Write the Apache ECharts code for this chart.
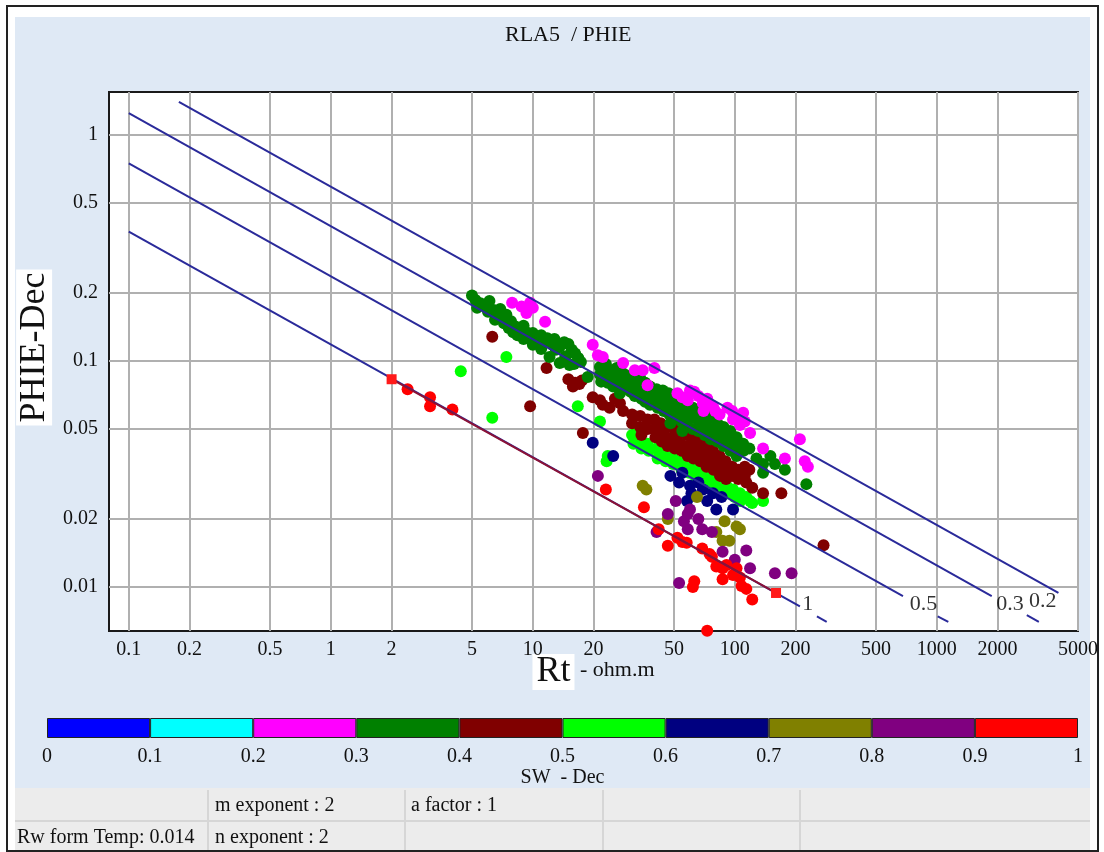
<!DOCTYPE html>
<html>
<head>
<meta charset="utf-8">
<title>RLA5 / PHIE</title>
<script src="https://cdn.jsdelivr.net/npm/echarts@6.0.0/dist/echarts.min.js"></script>
<style>
  html, body { margin: 0; padding: 0; background: #fff; }
  #chart { width: 1104px; height: 852px; }
</style>
</head>
<body>
<div id="chart"></div>
<script>
// axis ticks (real units, log scales)
const xTicks = [0.1, 0.2, 0.5, 1, 2, 5, 10, 20, 50, 100, 200, 500, 1000, 2000, 5000]
const yTicks = [0.01, 0.02, 0.05, 0.1, 0.2, 0.5, 1]
const xRange = [0.0798, 5000]
const yRange = [0.00638, 1.55]

// SW colour bins
const swEdges = [0, 0.1, 0.2, 0.3, 0.4, 0.5, 0.6, 0.7, 0.8, 0.9, 1]
const swColors = ['#0000ff', '#00ffff', '#ff00ff', '#008000', '#800000',
  '#00ff00', '#000080', '#808000', '#800080', '#ff0000']

// points [Rt, PHIE] by SW bin
const pts05_06 = [
  [4.4, 0.090], [7.4, 0.104], [6.3, 0.056], [16.7, 0.063], [21.5, 0.054], [23.2, 0.036], [23.5, 0.038],
  [31, 0.047], [31.5, 0.043], [33, 0.049], [34, 0.045], [34.5, 0.041], [37, 0.043], [37.5, 0.040], [41, 0.041],
  [41.5, 0.037], [45, 0.039], [45.5, 0.036], [49, 0.038], [49.5, 0.035], [54, 0.036], [54.5, 0.033],
  [59, 0.035], [59.5, 0.032], [64, 0.033], [64.5, 0.030], [70, 0.032], [70.5, 0.029], [76, 0.030],
  [76.5, 0.028], [83, 0.029], [83.5, 0.027], [91, 0.028], [91.5, 0.026], [98, 0.027], [100, 0.025],
  [106, 0.026], [106.5, 0.024], [114, 0.025], [119, 0.024], [122, 0.0235], [138, 0.024]
]
const pts04_05 = [
  [6.3, 0.128], [11.7, 0.093], [9.7, 0.063], [15, 0.083], [15.8, 0.080], [16.2, 0.080], [17.5, 0.082],
  [15.8, 0.077], [17, 0.079], [19.8, 0.069], [22.2, 0.064], [21.5, 0.067], [24, 0.062], [27, 0.065],
  [25.5, 0.068], [17.7, 0.048],
  [28, 0.060], [31, 0.058], [31, 0.053], [34, 0.057], [34, 0.051], [34.5, 0.047], [37, 0.055], [37, 0.050],
  [40, 0.055], [40, 0.050], [40.5, 0.046], [43, 0.053], [43, 0.048], [43.5, 0.044], [46, 0.051],
  [46, 0.046], [46.5, 0.042], [50, 0.050], [50, 0.045], [50.5, 0.041], [54, 0.048], [54, 0.043],
  [54.5, 0.040], [58, 0.047], [58, 0.042], [58.5, 0.038], [62, 0.045], [62, 0.041], [62.5, 0.037],
  [67, 0.044], [67, 0.040], [67.5, 0.036], [72, 0.042], [72, 0.038], [72.5, 0.034], [78, 0.040],
  [78, 0.036], [78.5, 0.033], [84, 0.038], [84, 0.034], [84.5, 0.031], [90, 0.036], [90, 0.033],
  [90.5, 0.030], [97, 0.034], [97, 0.031], [104, 0.033], [104, 0.030], [112, 0.034], [112, 0.031],
  [114, 0.029], [118, 0.033], [122, 0.0275], [138, 0.026], [170, 0.026], [275, 0.0153]
]
const pts03_04 = [
  [5.0, 0.195], [5.2, 0.186], [5.5, 0.180], [5.3, 0.172], [5.8, 0.175], [6.1, 0.184], [6.0, 0.165],
  [6.4, 0.168], [6.6, 0.160], [6.9, 0.170], [7.1, 0.154], [7.4, 0.160], [7.2, 0.147], [7.8, 0.150],
  [6.5, 0.152], [7.6, 0.140], [8.0, 0.134], [8.2, 0.142], [8.6, 0.137], [8.4, 0.130], [9.0, 0.143],
  [9.0, 0.125], [9.3, 0.134], [9.6, 0.127], [10.0, 0.133], [10.0, 0.118], [10.5, 0.124], [11.0, 0.130],
  [11.0, 0.113], [11.4, 0.121], [11.8, 0.126], [12.1, 0.104], [12.5, 0.118], [13.0, 0.112], [13.6, 0.116],
  [14.3, 0.121], [15.0, 0.119], [15.6, 0.112], [16.2, 0.108], [16.8, 0.103], [17.3, 0.099],
  [13.6, 0.098], [15.2, 0.096], [18.7, 0.085], [16.0, 0.097], [12.8, 0.125], [14.5, 0.105],
  [21.5, 0.094], [21.5, 0.087], [21.8, 0.081], [23, 0.097], [23, 0.089], [23.5, 0.080], [24.5, 0.091],
  [24.5, 0.084], [25, 0.077], [26, 0.093], [26.5, 0.086], [26, 0.079], [27, 0.072], [28, 0.088],
  [28.5, 0.081], [28, 0.075], [30, 0.086], [30, 0.079], [30.5, 0.073], [32, 0.083], [32.5, 0.077],
  [32, 0.070], [34, 0.084], [34, 0.075], [34.5, 0.068], [36, 0.080], [36.5, 0.072], [36, 0.066],
  [38, 0.077], [38.5, 0.070], [38, 0.064], [41, 0.075], [41, 0.068], [41.5, 0.062], [44, 0.074],
  [44, 0.066], [44.5, 0.060], [47, 0.072], [47, 0.064], [47.5, 0.058], [48, 0.053], [50, 0.069],
  [50.5, 0.062], [50, 0.056], [54, 0.066], [54, 0.060], [54.5, 0.054], [55, 0.049], [58, 0.064],
  [58.5, 0.058], [58, 0.052], [62, 0.062], [62.5, 0.056], [62, 0.050], [66, 0.060], [66.5, 0.054],
  [66, 0.049], [71, 0.058], [71.5, 0.052], [71, 0.047], [76, 0.056], [76.5, 0.050], [76, 0.045],
  [82, 0.053], [82.5, 0.048], [82, 0.044], [88, 0.051], [88.5, 0.046], [88, 0.042], [95, 0.049],
  [95.5, 0.044], [95, 0.040], [102, 0.046], [102.5, 0.042], [102, 0.038], [110, 0.043], [110.5, 0.040],
  [118, 0.041], [128, 0.037], [138, 0.035], [138, 0.032], [150, 0.038], [158, 0.035], [177, 0.033],
  [226, 0.0285]
]
const pts02_03 = [
  [7.9, 0.181], [8.8, 0.174], [9.7, 0.181], [9.3, 0.163], [10.0, 0.172], [11.5, 0.149],
  [19.8, 0.118], [21, 0.106], [22.2, 0.104], [28, 0.098], [32, 0.091], [35, 0.091], [40, 0.093],
  [37, 0.078], [52, 0.072], [55, 0.069], [60, 0.074], [63, 0.073], [58.5, 0.067], [66, 0.070],
  [69.5, 0.065], [73, 0.068], [70, 0.060], [78, 0.063], [80, 0.060], [84, 0.058], [92, 0.062],
  [97, 0.060], [100, 0.057], [110, 0.059], [98, 0.055], [112, 0.054], [106, 0.052], [119, 0.048],
  [138, 0.041], [177, 0.037], [210, 0.045], [222, 0.036], [230, 0.034]
]
const pts06_07 = [
  [19.8, 0.0435], [25, 0.038], [48, 0.031], [53, 0.029], [55, 0.032], [61, 0.026], [58, 0.024],
  [60, 0.028], [69.5, 0.027], [78, 0.026], [73, 0.024], [81, 0.022], [98, 0.022], [66, 0.029], [86, 0.025]
]
const pts07_08 = [
  [35, 0.028], [36.5, 0.027], [46.6, 0.020], [65, 0.025], [89, 0.0195], [106, 0.018], [94, 0.016],
  [87, 0.016], [81, 0.0175], [102, 0.0185]
]
const pts08_09 = [
  [21, 0.031], [46.6, 0.021], [51, 0.024], [58.5, 0.021], [60, 0.022], [66, 0.020], [58.5, 0.018],
  [69, 0.018], [77, 0.0175], [41, 0.0175], [53, 0.0104], [87, 0.0143], [100, 0.0132], [114, 0.0145],
  [119, 0.0121], [158, 0.0115], [191, 0.0115], [56, 0.0195]
]
const pts09_10 = [
  [2.4, 0.075], [3.1, 0.069], [3.1, 0.063], [4.0, 0.061], [23, 0.027], [35.5, 0.0225], [42, 0.018],
  [46.6, 0.0152], [52, 0.0165], [55, 0.0158], [57.8, 0.0157], [69, 0.0148], [75, 0.014], [77, 0.0136],
  [81, 0.0123], [87, 0.0121], [87, 0.0108], [63, 0.0106], [62, 0.0100], [106, 0.011], [108, 0.0101],
  [114, 0.0098], [122, 0.0088], [98, 0.0113], [102, 0.0121], [91, 0.0125], [73, 0.0064]
]
// end squares of the Sw = 1 fit
const redEnds = [[2, 0.083], [160, 0.0094]]

// Sw lines: [Rt, PHIE] ends
const swLines = [
  { sw: '1', pts: [[0.1, 0.374], [210, 0.0082]], dash: [[255, 0.0074], [285, 0.0070]], label: [230, 0.0084] },
  { sw: '0.5', pts: [[0.1, 0.748], [680, 0.0091]], dash: [[1010, 0.0074], [1140, 0.0070]], label: [860, 0.0084] },
  { sw: '0.3', pts: [[0.1, 1.25], [1870, 0.0091]], dash: [[2790, 0.0075], [3200, 0.0070]], label: [2300, 0.0084] },
  { sw: '0.2', pts: [[0.177, 1.40], [4000, 0.0094]], dash: null, label: [3350, 0.0086] }
]

// parameter table
const tableRow1 = [['m exponent : 2', 215], ['a factor : 1', 411]]
const tableRow2 = [['Rw form Temp: 0.014', 17], ['n exponent : 2', 215]]
const tableCols = [208, 405, 603, 800]

const serif = '"Liberation Serif", "DejaVu Serif", serif'
const lg = (v) => Math.log10(v)
const toLog = (pts) => pts.map((p) => [lg(p[0]), lg(p[1])])
const tickFmt = (v) => String(Number(Math.pow(10, v).toPrecision(1)))

const chart = echarts.init(document.getElementById('chart'), null, { renderer: 'canvas' })

const binPts = [null, null, pts02_03, pts03_04, pts04_05, pts05_06, pts06_07, pts07_08, pts08_09, pts09_10]
// draw order: lime, maroon, green, magenta, navy, olive, purple, red
const drawOrder = [5, 4, 3, 2, 6, 7, 8, 9]
const series = []
drawOrder.forEach((i) => {
  series.push({
    type: 'scatter',
    name: 'SW ' + swEdges[i] + '-' + swEdges[i + 1],
    xAxisIndex: 0,
    yAxisIndex: 0,
    symbolSize: 12,
    itemStyle: { color: swColors[i], opacity: 1 },
    data: toLog(binPts[i]),
    z: 2,
    silent: true
  })
})
swLines.forEach((l) => {
  series.push({
    type: 'line',
    xAxisIndex: 0,
    yAxisIndex: 0,
    showSymbol: false,
    lineStyle: { color: '#2a2a9a', width: 2 },
    data: toLog(l.pts),
    z: 4,
    silent: true
  })
  if (l.dash) {
    series.push({
      type: 'line',
      xAxisIndex: 0,
      yAxisIndex: 0,
      showSymbol: false,
      lineStyle: { color: '#2a2a9a', width: 2 },
      data: toLog(l.dash),
      z: 4,
      silent: true
    })
  }
})
// Sw = 1 fit drawn in dark red between the two squares
series.push({
  type: 'line',
  xAxisIndex: 0,
  yAxisIndex: 0,
  showSymbol: true,
  symbol: 'rect',
  symbolSize: 10,
  itemStyle: { color: '#ff1a1a' },
  lineStyle: { color: '#8c1236', width: 2 },
  data: toLog(redEnds),
  z: 5,
  silent: true
})
// line labels
series.push({
  type: 'scatter',
  xAxisIndex: 0,
  yAxisIndex: 0,
  symbolSize: 1,
  itemStyle: { color: 'transparent' },
  label: {
    show: true,
    position: 'inside',
    formatter: '{b}',
    fontFamily: serif,
    fontSize: 22,
    color: '#000',
    textBorderWidth: 0
  },
  data: swLines.map((l) => ({ name: l.sw, value: [lg(l.label[0]), lg(l.label[1])] })),
  z: 6,
  silent: true
})
// SW colour bar
for (let i = 0; i < swColors.length; i++) {
  series.push({
    type: 'bar',
    xAxisIndex: 1,
    yAxisIndex: 1,
    stack: 'sw',
    barWidth: '100%',
    itemStyle: { color: swColors[i], borderColor: '#222', borderWidth: 1 },
    data: [swEdges[i + 1] - swEdges[i]],
    silent: true
  })
}

// background, frame and parameter table
const graphics = [
  { type: 'rect', shape: { x: 7, y: 6, width: 1091, height: 845 }, style: { fill: '#fff', stroke: '#222', lineWidth: 2 }, z: -20, silent: true },
  { type: 'rect', shape: { x: 15, y: 17, width: 1075, height: 771 }, style: { fill: '#dfe9f5' }, z: -19, silent: true },
  { type: 'rect', shape: { x: 15, y: 788, width: 1075, height: 62 }, style: { fill: '#ececec' }, z: -19, silent: true },
  { type: 'line', shape: { x1: 15, y1: 821, x2: 1090, y2: 821 }, style: { stroke: '#d6d6d6', lineWidth: 2 }, z: -18, silent: true }
]
tableCols.forEach((x) => {
  graphics.push({ type: 'line', shape: { x1: x, y1: 790, x2: x, y2: 850 }, style: { stroke: '#d6d6d6', lineWidth: 2 }, z: -18, silent: true })
})
tableRow1.forEach((c) => {
  graphics.push({ type: 'text', x: c[1], y: 806, style: { text: c[0], font: '20px ' + serif, fill: '#111', verticalAlign: 'middle' }, silent: true })
})
tableRow2.forEach((c) => {
  graphics.push({ type: 'text', x: c[1], y: 838, style: { text: c[0], font: '20px ' + serif, fill: '#111', verticalAlign: 'middle' }, silent: true })
})

const option = {
  animation: false,
  backgroundColor: '#fff',
  title: {
    text: 'RLA5  / PHIE',
    left: 500,
    top: 19,
    textStyle: { fontFamily: serif, fontSize: 22, fontWeight: 'normal', color: '#111' }
  },
  graphic: { elements: graphics },
  grid: [
    { left: 109, top: 92, width: 969, height: 539, show: true, backgroundColor: '#fff', borderColor: '#1a1a1a', borderWidth: 2, outerBoundsMode: 'none', containLabel: false },
    { left: 47, top: 718, width: 1031, height: 20, outerBoundsMode: 'none', containLabel: false }
  ],
  xAxis: [
    {
      type: 'value',
      gridIndex: 0,
      min: lg(xRange[0]),
      max: lg(xRange[1]),
      axisLine: { show: false },
      axisTick: { show: false, customValues: xTicks.map(lg) },
      axisLabel: { customValues: xTicks.map(lg), formatter: tickFmt, margin: 9, fontFamily: serif, fontSize: 20, color: '#111' },
      splitLine: { show: true, lineStyle: { color: '#b0b0b0', width: 2 } },
      name: '{a|Rt}{b| - ohm.m}',
      nameLocation: 'middle',
      nameGap: 23,
      nameMoveOverlap: false,
      nameTextStyle: {
        color: '#111',
        rich: {
          a: { fontFamily: serif, fontSize: 36, color: '#111', backgroundColor: '#fff', padding: [0, 4, 0, 4] },
          b: { fontFamily: serif, fontSize: 22, color: '#111', padding: [0, 0, 3, 0] }
        }
      }
    },
    {
      type: 'value',
      gridIndex: 1,
      min: 0,
      max: 1,
      interval: 0.1,
      axisLine: { show: false },
      axisTick: { show: false },
      splitLine: { show: false },
      axisLabel: { margin: 9, fontFamily: serif, fontSize: 20, color: '#111', formatter: (v) => String(Number(v.toFixed(1))) },
      name: 'SW  - Dec',
      nameLocation: 'middle',
      nameGap: 28,
      nameTextStyle: { fontFamily: serif, fontSize: 20, color: '#111' }
    }
  ],
  yAxis: [
    {
      type: 'value',
      gridIndex: 0,
      min: lg(yRange[0]),
      max: lg(yRange[1]),
      axisLine: { show: false },
      axisTick: { show: false, customValues: yTicks.map(lg) },
      axisLabel: { customValues: yTicks.map(lg), formatter: tickFmt, margin: 11, fontFamily: serif, fontSize: 20, color: '#111' },
      splitLine: { show: true, lineStyle: { color: '#b0b0b0', width: 2 } },
      name: '{s|}{t|PHIE-Dec}',
      nameLocation: 'middle',
      nameGap: 56,
      nameTextStyle: {
        rich: {
          s: { width: 28, fontSize: 36 },
          t: { fontFamily: serif, fontSize: 36, color: '#111', backgroundColor: '#fff', padding: [0, 3, 0, 3] }
        }
      }
    },
    {
      type: 'category',
      gridIndex: 1,
      data: ['SW'],
      show: false
    }
  ],
  series: series
}
chart.setOption(option)
</script>
</body>
</html>
